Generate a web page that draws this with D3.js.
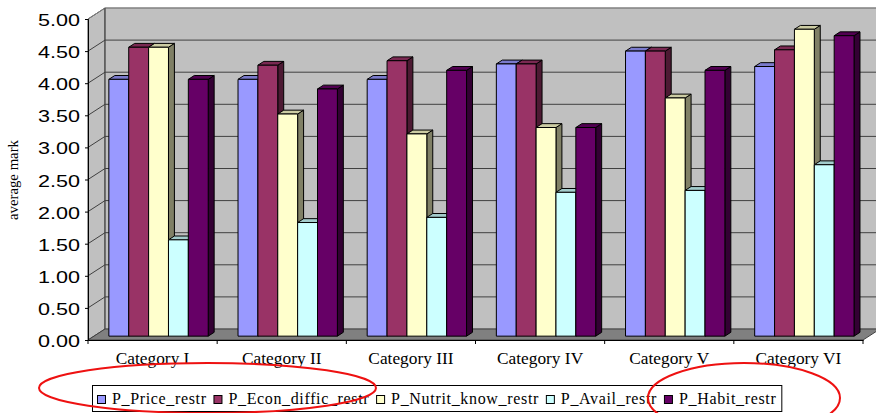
<!DOCTYPE html>
<html>
<head>
<meta charset="utf-8">
<script src="https://cdn.jsdelivr.net/npm/d3@7"></script>
<style>
  html, body { margin: 0; padding: 0; background: #fff; }
  svg { display: block; }
</style>
</head>
<body>
<svg id="chart" width="876" height="413"></svg>
<script>
// ---------------- data ----------------
const categories = ["Category I", "Category II", "Category III", "Category IV", "Category V", "Category VI"];
const seriesNames = ["P_Price_restr", "P_Econ_diffic_restr", "P_Nutrit_know_restr", "P_Avail_restr", "P_Habit_restr"];
const priceRestr   = [4.00, 4.00, 4.00, 4.24, 4.44, 4.20];
const econRestr    = [4.50, 4.22, 4.29, 4.24, 4.44, 4.46];
const nutritRestr  = [4.50, 3.46, 3.15, 3.25, 3.71, 4.78];
const availRestr   = [1.50, 1.77, 1.85, 2.24, 2.27, 2.67];
const habitRestr   = [4.00, 3.85, 4.14, 3.25, 4.14, 4.68];
const yTickValues  = [0, 0.5, 1, 1.5, 2, 2.5, 3, 3.5, 4, 4.5, 5];
const yTitle = "average mark";

const seriesValues = [priceRestr, econRestr, nutritRestr, availRestr, habitRestr];
const seriesColors = ["#9999ff", "#993366", "#ffffcc", "#ccffff", "#660066"];

// ---------------- layout ----------------
const svg = d3.select("#chart");
const DX = 17, DY = -11;          // total 3D depth offset
const F1 = 0.35, F2 = 0.70;       // bar front/back depth fractions

const x = d3.scaleBand().domain(categories).range([88, 863]).paddingInner(0).paddingOuter(0);
const xi = d3.scaleBand().domain(d3.range(seriesNames.length)).range([0, x.bandwidth()]).paddingInner(0).paddingOuter(0.75);
const y = d3.scaleLinear().domain([0, 5]).range([340, 19]);

const x0 = x.range()[0], x1 = x.range()[1];
const P = (xw, v, d) => [xw + d * DX, y(v) + d * DY];
const poly = pts => pts.map(p => p.join(",")).join(" ");

// walls & floor
svg.append("polygon").attr("points", poly([P(x0,0,0), P(x0,0,1), P(x0,5,1), P(x0,5,0)]))
  .attr("fill", "#c0c0c0").attr("stroke", "#404040").attr("stroke-width", 1);
svg.append("polygon").attr("points", poly([P(x0,0,1), P(x1,0,1), P(x1,5,1), P(x0,5,1)]))
  .attr("fill", "#c0c0c0").attr("stroke", "#808080").attr("stroke-width", 1);
svg.append("polygon").attr("points", poly([P(x0,0,0), P(x1,0,0), P(x1,0,1), P(x0,0,1)]))
  .attr("fill", "#808080").attr("stroke", "#404040").attr("stroke-width", 1);

// gridlines
const grid = svg.append("g").attr("fill", "none");
yTickValues.filter(v => v > 0).forEach(v => {
  const a = P(x0, v, 0), b = P(x0, v, 1), c = P(x1, v, 1);
  grid.append("polyline").attr("points", poly([a, b, c]))
    .attr("stroke", v === 5 ? "#808080" : "#404040").attr("stroke-width", 1);
});
// back-left corner
svg.append("line").attr("x1", P(x0,0,1)[0]).attr("y1", P(x0,0,1)[1]).attr("x2", P(x0,5,1)[0]).attr("y2", P(x0,5,1)[1])
  .attr("stroke", "#404040");

// y axis
const yAxis = d3.axisLeft(y).tickValues(yTickValues).tickFormat(d3.format(".2f")).tickSize(3).tickPadding(5);
const gy = svg.append("g").attr("transform", `translate(${x0},0)`).call(yAxis);
gy.select(".domain").attr("stroke", "#000");
gy.selectAll(".tick line").attr("stroke", "#000");
gy.selectAll(".tick text")
  .attr("font-family", "'Liberation Sans', Arial, sans-serif")
  .attr("font-size", 17).attr("fill", "#000")
  .attr("dy", null).attr("y", 6.5)
  .each(function() {
    const w = this.getComputedTextLength();
    d3.select(this).attr("textLength", w * 1.27).attr("lengthAdjust", "spacingAndGlyphs");
  });

// x axis
const xAxis = d3.axisBottom(x).tickSize(0).tickPadding(0);
const gx = svg.append("g").attr("transform", `translate(0,${y(0)})`).call(xAxis);
gx.select(".domain").attr("stroke", "#000");
gx.selectAll(".tick text")
  .attr("font-family", "'Liberation Serif', 'Times New Roman', serif")
  .attr("font-size", 16.5).attr("fill", "#000")
  .attr("dy", null).attr("y", 24)
  .each(function() {
    const w = this.getComputedTextLength();
    d3.select(this).attr("textLength", w * 1.05).attr("lengthAdjust", "spacingAndGlyphs");
  });
// category boundary ticks
const bounds = categories.map(c => x(c)).concat([x1]);
svg.append("g").selectAll("line").data(bounds).join("line")
  .attr("x1", d => d).attr("x2", d => d).attr("y1", y(0)).attr("y2", y(0) + 4)
  .attr("stroke", "#000");

// bars
const shade = (c, k) => { const r = d3.rgb(c); return d3.rgb(r.r * k, r.g * k, r.b * k).formatHex(); };
const bars = svg.append("g").attr("stroke", "#000").attr("stroke-width", 1).attr("stroke-linejoin", "miter");
categories.forEach((cat, ci) => {
  seriesValues.forEach((vals, si) => {
    const v = vals[ci];
    const xl = x(cat) + xi(si), xr = xl + xi.bandwidth();
    const col = seriesColors[si];
    bars.append("polygon").attr("points", poly([P(xr,0,F1), P(xr,0,F2), P(xr,v,F2), P(xr,v,F1)]))
      .attr("fill", shade(col, 0.5));
    bars.append("polygon").attr("points", poly([P(xl,v,F1), P(xr,v,F1), P(xr,v,F2), P(xl,v,F2)]))
      .attr("fill", shade(col, 0.8));
    bars.append("polygon").attr("points", poly([P(xl,0,F1), P(xr,0,F1), P(xr,v,F1), P(xl,v,F1)]))
      .attr("fill", col);
  });
});

// y title
svg.append("text").text(yTitle)
  .attr("transform", "translate(18,180) rotate(-90)")
  .attr("text-anchor", "middle")
  .attr("font-family", "'Liberation Serif', 'Times New Roman', serif")
  .attr("font-size", 14.5).attr("fill", "#000")
  .attr("textLength", 80).attr("lengthAdjust", "spacingAndGlyphs");

// legend
const legend = svg.append("g");
const legBox = legend.append("rect").attr("fill", "#fff").attr("stroke", "#000").attr("stroke-width", 1);
let lx = 97;
seriesNames.forEach((name, i) => {
  legend.append("rect").attr("x", lx + 0.5).attr("y", 395.5).attr("width", 8).attr("height", 8)
    .attr("fill", seriesColors[i]).attr("stroke", "#000");
  const t = legend.append("text").text(name)
    .attr("x", lx + 15).attr("y", 404)
    .attr("font-family", "'Liberation Serif', 'Times New Roman', serif")
    .attr("font-size", 16).attr("fill", "#000");
  const w = t.node().getComputedTextLength() * 1.09;
  t.attr("textLength", w).attr("lengthAdjust", "spacing");
  lx = lx + 15 + w + 7.5;
});
legBox.attr("x", 92.5).attr("y", 385.5).attr("width", lx - 7.5 + 6 - 92.5).attr("height", 26);

// red annotation ellipses
svg.append("ellipse").attr("cx", 207.5).attr("cy", 388).attr("rx", 168.5).attr("ry", 25)
  .attr("fill", "none").attr("stroke", "#ee1111").attr("stroke-width", 2);
svg.append("ellipse").attr("cx", 744).attr("cy", 398).attr("rx", 96).attr("ry", 35)
  .attr("fill", "none").attr("stroke", "#ee1111").attr("stroke-width", 2);
</script>
</body>
</html>
